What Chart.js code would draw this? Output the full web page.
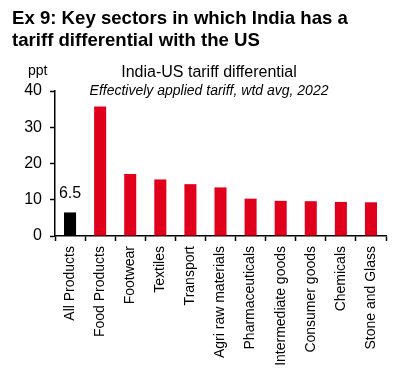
<!DOCTYPE html>
<html>
<head>
<meta charset="utf-8">
<script src="https://cdn.jsdelivr.net/npm/chart.js@4"></script>
<style>
  html, body { margin: 0; padding: 0; background: #fff; }
  #wrap { position: relative; width: 395px; height: 372px; }
  #heading {
    position: absolute; left: 12px; top: 7px;
    font: bold 18.6px Arial, "Liberation Sans", sans-serif;
    line-height: 22px; color: #000;
  }
  canvas { position: absolute; left: 0; top: 0; }
</style>
</head>
<body>
<div id="wrap">
  <canvas id="chart" width="395" height="372"></canvas>
  <div id="heading">Ex 9: Key sectors in which India has a<br>tariff differential with the US</div>
</div>
<script>
// data
const categories = ["All Products", "Food Products", "Footwear", "Textiles", "Transport",
  "Agri raw materials", "Pharmaceuticals", "Intermediate goods", "Consumer goods",
  "Chemicals", "Stone and Glass"];
const differential = [6.5, 35.7, 17.1, 15.6, 14.3, 13.4, 10.3, 9.7, 9.6, 9.4, 9.3];
const yTicks = [0, 10, 20, 30, 40];

const FONT = 'Arial, "Liberation Sans", sans-serif';
const RED = "#E0001B";

// titles + the single value label
const textPlugin = {
  id: "texts",
  afterDraw(chart) {
    const ctx = chart.ctx;
    ctx.save();
    ctx.fillStyle = "#000";
    ctx.textBaseline = "alphabetic";
    ctx.textAlign = "center";
    ctx.font = "16px " + FONT;
    ctx.fillText("India-US tariff differential", 209, 77);
    ctx.font = "italic 14px " + FONT;
    ctx.fillText("Effectively applied tariff, wtd avg, 2022", 209, 95);
    ctx.textAlign = "left";
    ctx.font = "14px " + FONT;
    ctx.fillText("ppt", 28, 75);
    // label over first bar
    const bar = chart.getDatasetMeta(0).data[0];
    ctx.textAlign = "center";
    ctx.font = "16px " + FONT;
    ctx.fillText(differential[0].toFixed(1), bar.x, bar.y - 14);
    ctx.restore();
  }
};

new Chart(document.getElementById("chart"), {
  type: "bar",
  data: {
    labels: categories,
    datasets: [{
      data: differential,
      backgroundColor: differential.map((v, i) => i === 0 ? "#000" : RED),
      barPercentage: 0.4,
      categoryPercentage: 1
    }]
  },
  options: {
    responsive: false,
    animation: false,
    layout: { padding: { top: 91, right: 9, left: 0, bottom: 0 } },
    plugins: { legend: { display: false }, tooltip: { enabled: false } },
    scales: {
      x: {
        grid: { offset: true, drawOnChartArea: false, drawTicks: true, tickLength: 5, tickColor: "#000", tickWidth: 1.5 },
        border: { color: "#000", width: 1.5 },
        ticks: { color: "#000", font: { family: FONT, size: 14 }, maxRotation: 90, minRotation: 90, padding: 5, autoSkip: false },
        afterFit(scale) { scale.height = 136; }
      },
      y: {
        min: 0, max: 40,
        afterBuildTicks(scale) { scale.ticks = yTicks.map(v => ({ value: v })); },
        grid: { drawOnChartArea: false, drawTicks: true, tickLength: 5, tickColor: "#000", tickWidth: 1.5 },
        border: { color: "#000", width: 1.5 },
        ticks: { color: "#000", font: { family: FONT, size: 16 }, padding: 8 },
        afterFit(scale) { scale.width = 55; }
      }
    }
  },
  plugins: [textPlugin]
});
</script>
</body>
</html>
